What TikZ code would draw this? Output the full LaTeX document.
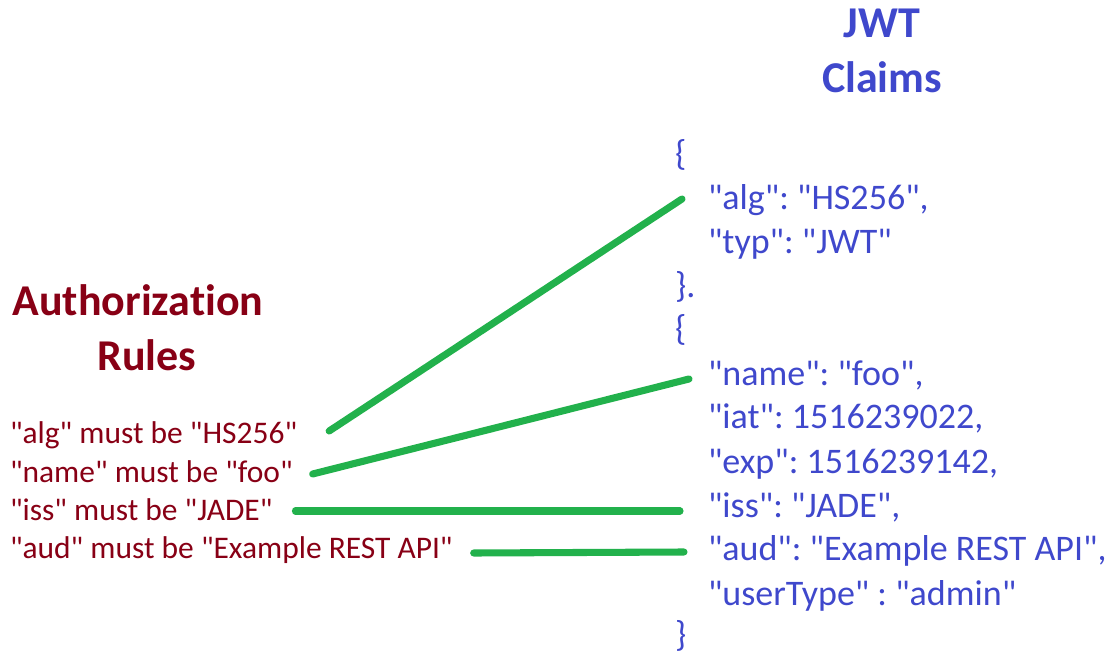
\documentclass[tikz,border=0pt]{standalone}
\usepackage{fontspec}
\setmainfont{Carlito}[Ligatures={TeXOff,NoCommon}]
\usetikzlibrary{calc}
\definecolor{rulered}{RGB}{136,0,21}
\definecolor{jwtblue}{RGB}{63,72,204}
\definecolor{linkgreen}{RGB}{34,177,76}
\begin{document}
\frenchspacing
\begin{tikzpicture}[x=0.75pt,y=-0.75pt,
  every node/.style={inner sep=0pt,outer sep=0pt},
  title/.style={anchor=base,font=\fontsize{33}{40}\selectfont\bfseries},
  ruletext/.style={anchor=base west,text=rulered,font=\fontsize{23.6}{28}\selectfont},
  jwttext/.style={anchor=base west,text=jwtblue,font=\fontsize{27}{32}\selectfont},
  link/.style={draw=linkgreen,line width=5.3pt,line cap=round}]
\useasboundingbox (0,0) rectangle (1120,652);
% titles
\node[title,text=rulered] (t1) at (138,315) {Authorization};
\node[title,text=rulered] (t2) at (147,370) {Rules};
\node[title,text=jwtblue] (t3) at (882,38) {JWT};
\node[title,text=jwtblue] (t4) at (882,93) {Claims};
% rules
\node[ruletext] (ralg)  at (10,443) {"alg" must be "HS256"};
\node[ruletext] (rname) at (10,482) {"name" must be "foo"};
\node[ruletext] (riss)  at (10,520) {"iss" must be "JADE"};
\node[ruletext] (raud)  at (10,558) {"aud" must be "Example REST API"};
% claims
\node[jwttext] (b1)    at (675,166) {\{};
\node[jwttext] (jalg)  at (708,210) {"alg": "HS256",};
\node[jwttext] (jtyp)  at (708,253) {"typ": "JWT"};
\node[jwttext] (c1)    at (675,297) {\}.};
\node[jwttext] (b2)    at (675,340) {\{};
\node[jwttext] (jname) at (708,385) {"name": "foo",};
\node[jwttext] (jiat)  at (708,428) {"iat": 1516239022,};
\node[jwttext] (jexp)  at (708,473) {"exp": 1516239142,};
\node[jwttext] (jiss)  at (708,517) {"iss": "JADE",};
\node[jwttext] (jaud)  at (708,560) {"aud": "Example REST API",};
\node[jwttext] (jtype) at (708,605) {"userType" : "admin"};
\node[jwttext] (c2)    at (675,646) {\}};
% connectors
\draw[link] ($(ralg.base east)+(32,-12)$) -- ($(jalg.base west)+(-26,-11)$);
\draw[link] ($(rname.base east)+(20,-8)$) -- ($(jname.base west)+(-19,-6)$);
\draw[link] ($(riss.base east)+(23,-9)$) -- ($(jiss.base west)+(-28,-6)$);
\draw[link] ($(raud.base east)+(21,-5)$) -- ($(jaud.base west)+(-24,-8)$);
\end{tikzpicture}
\end{document}
